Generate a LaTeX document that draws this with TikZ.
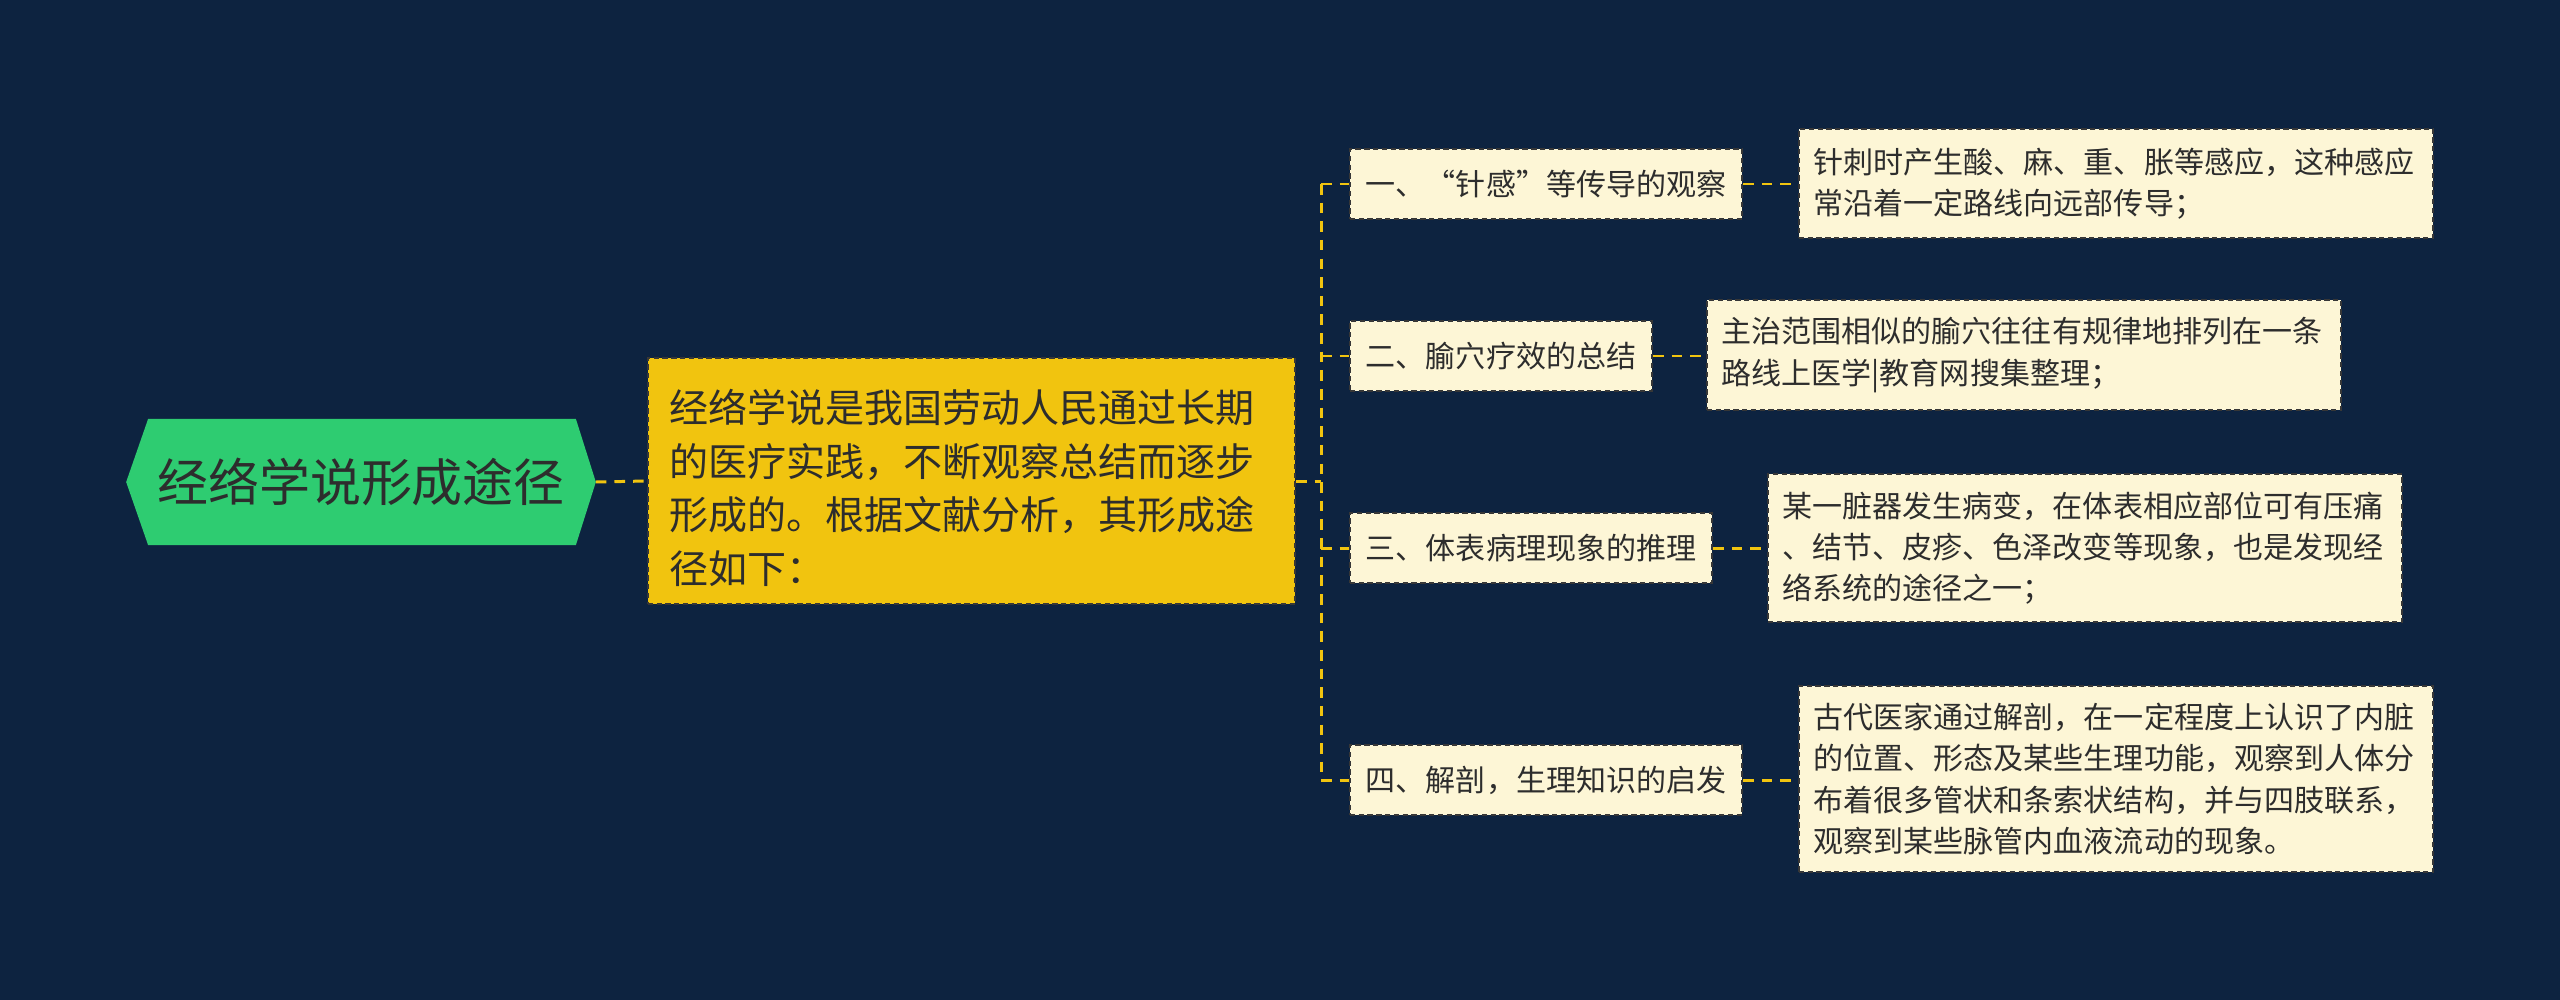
\documentclass[tikz,border=0pt]{standalone}
\usepackage{fontspec}
\setmainfont{Noto Sans CJK SC}
\usetikzlibrary{backgrounds,calc}
\definecolor{bg}{RGB}{13,35,64}
\definecolor{rootgreen}{RGB}{46,204,113}
\definecolor{mainyellow}{RGB}{241,196,15}
\definecolor{cream}{RGB}{253,246,214}
\definecolor{txt}{RGB}{45,45,45}
\definecolor{bord}{RGB}{55,55,55}
\begin{document}
\begin{tikzpicture}[x=0.01cm,y=-0.01cm,
  rootbox/.style={inner sep=0pt, minimum width=4.68cm, minimum height=1.25cm,
    font=\fontsize{14.5pt}{17pt}\selectfont, text=txt},
  mainbox/.style={fill=mainyellow, draw=bord, line width=0.5pt, dash pattern=on 1.5pt off 1pt,
    minimum width=6.47cm, minimum height=2.46cm, text width=172pt, align=left,
    font=\fontsize{11.1pt}{15.2pt}\selectfont, text=txt},
  branchbox/.style={fill=cream, draw=bord, line width=0.5pt, dash pattern=on 1.5pt off 1pt,
    inner xsep=4.55pt, minimum height=0.70cm, anchor=west,
    font=\fontsize{8.54pt}{10pt}\selectfont, text=txt},
  leafbox/.style={fill=cream, draw=bord, line width=0.5pt, dash pattern=on 1.5pt off 1pt,
    minimum width=6.34cm, text width=172pt, align=left, anchor=west,
    font=\fontsize{8.54pt}{11.7pt}\selectfont, text=txt},
  conn/.style={draw=mainyellow, line width=0.85pt, dash pattern=on 3pt off 2.3pt}
]
\useasboundingbox (0,0) rectangle (2560,1000);

\node[rootbox] (root) at (361,482) {经络学说形成途径};

\node[mainbox] (main) at (971.5,481) {\rule{0pt}{13.4pt}经络学说是我国劳动人民通过长期\\的医疗实践，不断观察总结而逐步\\形成的。根据文献分析，其形成途\\径如下：};

\node[branchbox] (b1) at (1349,184) {一、“针感”等传导的观察};
\node[branchbox] (b2) at (1349,356) {二、腧穴疗效的总结};
\node[branchbox] (b3) at (1349,548) {三、体表病理现象的推理};
\node[branchbox] (b4) at (1349,780) {四、解剖，生理知识的启发};

\node[leafbox, minimum height=1.09cm] (l1) at (1798,183.5) {针刺时产生酸、麻、重、胀等感应，这种感应\\常沿着一定路线向远部传导；};
\node[leafbox, minimum height=1.10cm] (l2) at (1706,355) {主治范围相似的腧穴往往有规律地排列在一条\\路线上医学|教育网搜集整理；};
\node[leafbox, minimum height=1.48cm] (l3) at (1767,548) {某一脏器发生病变，在体表相应部位可有压痛\\、结节、皮疹、色泽改变等现象，也是发现经\\络系统的途径之一；};
\node[leafbox, minimum height=1.86cm] (l4) at (1798,779) {古代医家通过解剖，在一定程度上认识了内脏\\的位置、形态及某些生理功能，观察到人体分\\布着很多管状和条索状结构，并与四肢联系，\\观察到某些脉管内血液流动的现象。};

\coordinate (trunk) at (1321,481);

\begin{scope}[on background layer]
  \fill[bg] (0,0) rectangle (2560,1000);
  \fill[rootgreen] (root.west) -- ($(root.north west)+(22,0)$) -- ($(root.north east)+(-20,0)$)
    -- (root.east) -- ($(root.south east)+(-20,0)$) -- ($(root.south west)+(22,0)$) -- cycle;
  \draw[conn] (root.east) -- (main.west);
  \draw[conn] (main.east) -- (trunk);
  \draw[conn] (b1.west -| trunk) -- (b4.west -| trunk);
  \draw[conn] (b1.west -| trunk) -- (b1.west);
  \draw[conn] (b2.west -| trunk) -- (b2.west);
  \draw[conn] (b3.west -| trunk) -- (b3.west);
  \draw[conn] (b4.west -| trunk) -- (b4.west);
  \draw[conn] (b1.east) -- (b1.east -| l1.west);
  \draw[conn] (b2.east) -- (b2.east -| l2.west);
  \draw[conn] (b3.east) -- (b3.east -| l3.west);
  \draw[conn] (b4.east) -- (b4.east -| l4.west);
\end{scope}
\end{tikzpicture}
\end{document}
